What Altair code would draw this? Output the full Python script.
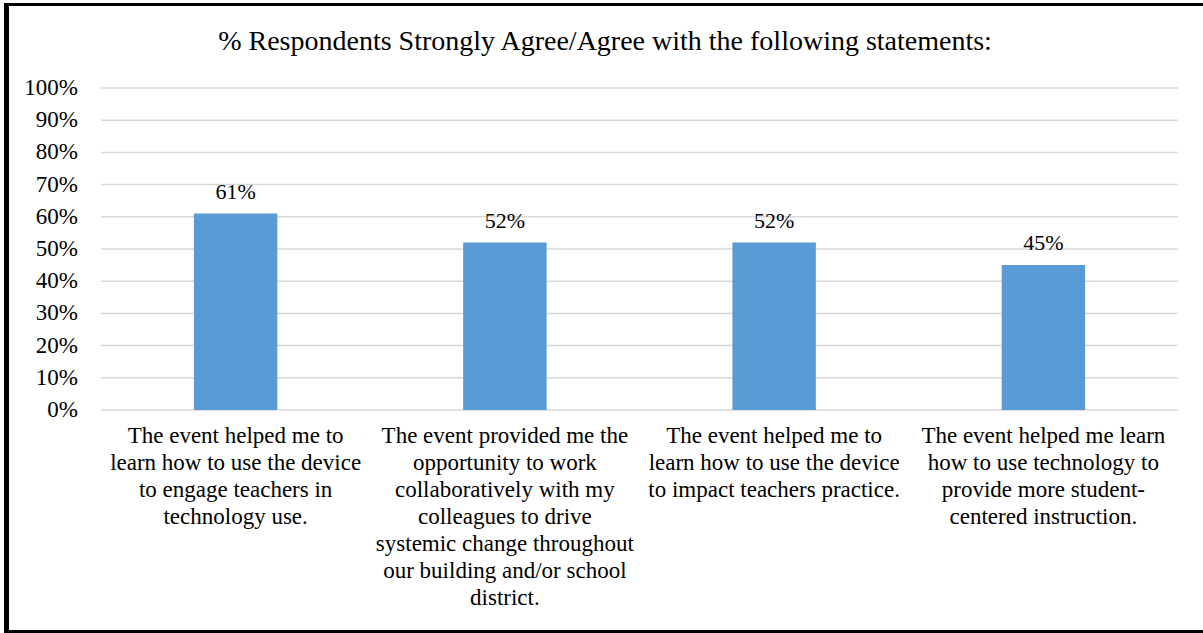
import altair as alt
import pandas as pd

categories = [
    "The event helped me to|learn how to use the device|to engage teachers in|technology use.",
    "The event provided me the|opportunity to work|collaboratively with my|colleagues to drive|systemic change throughout|our building and/or school|district.",
    "The event helped me to|learn how to use the device|to impact teachers practice.",
    "The event helped me learn|how to use technology to|provide more student-|centered instruction.",
]
values = [0.61, 0.52, 0.52, 0.45]
y_ticks = [0, 0.1, 0.2, 0.3, 0.4, 0.5, 0.6, 0.7, 0.8, 0.9, 1.0]
y_tick_labels = ["0%", "10%", "20%", "30%", "40%", "50%", "60%", "70%", "80%", "90%", "100%"]
title_text = "% Respondents Strongly Agree/Agree with the following statements:"

df = pd.DataFrame({"cat": categories, "val": values})
ticks_df = pd.DataFrame({"tick": y_ticks, "lab": y_tick_labels})

FONT = "Liberation Serif"
W, H = 1077, 322
PL, PT = 101, 88

yscale = alt.Scale(domain=[0, 1], nice=False)

x_enc = alt.X(
    "cat:N", sort=categories, title=None,
    scale=alt.Scale(paddingInner=0.69, paddingOuter=0.345),
    axis=alt.Axis(
        labelAngle=0, labelExpr="split(datum.label, '|')", labelLimit=0,
        labelFont=FONT, labelFontSize=23, labelColor="black",
        labelLineHeight=27, labelPadding=14, labelBaseline="top",
        ticks=False, domain=False, grid=False,
    ),
)
y_enc = alt.Y("val:Q", title=None, scale=yscale, axis=None)

grid = alt.Chart(ticks_df).mark_rule(color="#d9d9d9", strokeWidth=1.5).encode(
    y=alt.Y("tick:Q", scale=yscale, axis=None), x=alt.value(0), x2=alt.value(W)
)
ylabels = alt.Chart(ticks_df).mark_text(
    font=FONT, fontSize=23, color="black", align="right", baseline="middle"
).encode(y=alt.Y("tick:Q", scale=yscale, axis=None), x=alt.value(-23), text="lab:N")

base = alt.Chart(df)
bars = base.mark_bar(color="#5B9BD5").encode(x=x_enc, y=y_enc)
labels = base.mark_text(
    font=FONT, fontSize=22, color="black", baseline="bottom", dy=-10
).encode(x=x_enc, y=y_enc, text=alt.Text("val:Q", format=".0%"))

title = alt.Chart(pd.DataFrame({"t": [title_text]})).mark_text(
    font=FONT, fontSize=28, color="black", align="center", baseline="middle"
).encode(x=alt.value(605 - PL), y=alt.value(42 - PT), text="t:N")

left_border = alt.Chart(df).mark_rule(color="black", strokeWidth=5).encode(
    x=alt.value(6.5 - PL), y=alt.value(3 - PT), y2=alt.value(633 - PT)
)
top_border = alt.Chart(df).mark_rule(color="black", strokeWidth=3).encode(
    x=alt.value(4 - PL), x2=alt.value(1203 - PL), y=alt.value(4.5 - PT)
)
bottom_border = alt.Chart(df).mark_rule(color="black", strokeWidth=3).encode(
    x=alt.value(4 - PL), x2=alt.value(1203 - PL), y=alt.value(631.5 - PT)
)

chart = alt.layer(
    grid, ylabels, bars, labels, title, left_border, top_border, bottom_border
).properties(
    width=W, height=H,
    padding={"left": PL, "top": PT, "right": 1203 - PL - W, "bottom": 633 - PT - H},
    autosize=alt.AutoSizeParams(type="none"),
).configure(background="white").configure_view(stroke=None)

chart.save("out.html", embed_options={"renderer": "svg", "actions": False})
